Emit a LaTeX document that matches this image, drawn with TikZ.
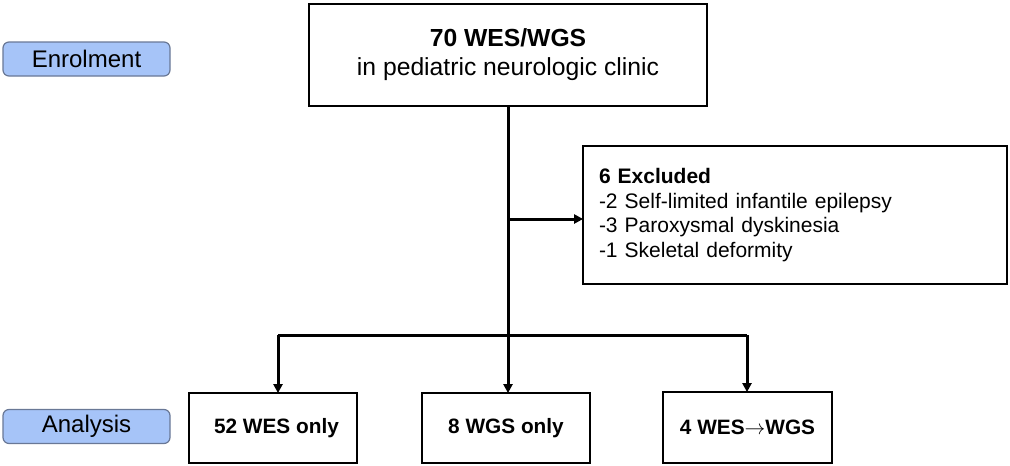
\documentclass[tikz,border=0pt]{standalone}
\usepackage{fontspec}
\setmainfont{Liberation Sans}
\usetikzlibrary{arrows.meta}
\definecolor{labfill}{RGB}{166,196,248}
\definecolor{labdraw}{RGB}{105,120,150}
\tikzset{
  box/.style={draw=black, line width=1.8pt, fill=white, inner sep=0pt, align=center},
  lab/.style={draw=labdraw, line width=1.2pt, fill=labfill, rounded corners=6pt,
              minimum width=167pt, minimum height=34pt, inner sep=0pt,
              font=\fontsize{24}{28}\selectfont},
  conn/.style={line width=3pt, draw=black},
  arr/.style={conn, -{Triangle[length=9pt,width=9pt]}, shorten >=-1pt}
}
\begin{document}
\begin{tikzpicture}[x=1pt,y=-1pt]
\useasboundingbox (0,0) rectangle (1010,466);
% stage labels
\node[lab] (enrol) at (86.5,59) {Enrolment};
\node[lab] (anal) at (86.5,426.5) {Analysis};
% boxes
\node[box, minimum width=398pt, minimum height=102pt,
      font=\fontsize{24.7}{29}\selectfont] (top) at (508,55)
      {\textbf{70 WES/WGS}\\in pediatric neurologic clinic};
\node[box, minimum width=424pt, minimum height=138pt, text width=392pt,
      inner xsep=16pt, align=left, font=\fontsize{21}{24.5}\selectfont] (excl) at (795,215)
      {\textbf{6 Excluded}\\-2 Self-limited infantile epilepsy\\-3 Paroxysmal dyskinesia\\-1 Skeletal deformity};
\node[box, minimum width=168pt, minimum height=70pt,
      font=\bfseries\fontsize{20.8}{24}\selectfont] (b1) at (273,428) {\hspace*{7pt}52 WES only};
\node[box, minimum width=168pt, minimum height=70pt,
      font=\bfseries\fontsize{20.8}{24}\selectfont] (b2) at (506,428) {8 WGS only};
\node[box, minimum width=169pt, minimum height=71pt,
      font=\bfseries\fontsize{20.8}{24}\selectfont] (b3) at (747.5,427.5) {4 WES$\rightarrow$WGS};
% connectors
\coordinate (j) at (508,335);
\coordinate (jl) at (278,335);
\coordinate (jr) at (747,335);
\coordinate (jx) at (508,219);
\draw[arr] (top.south) -- (top.south |- b2.north);
\draw[arr] (jx) -- (jx -| excl.west);
\draw[conn] (jl) -- (jr);
\draw[arr] (jl) -- (jl |- b1.north);
\draw[arr] (jr) -- (jr |- b3.north);
\end{tikzpicture}
\end{document}
